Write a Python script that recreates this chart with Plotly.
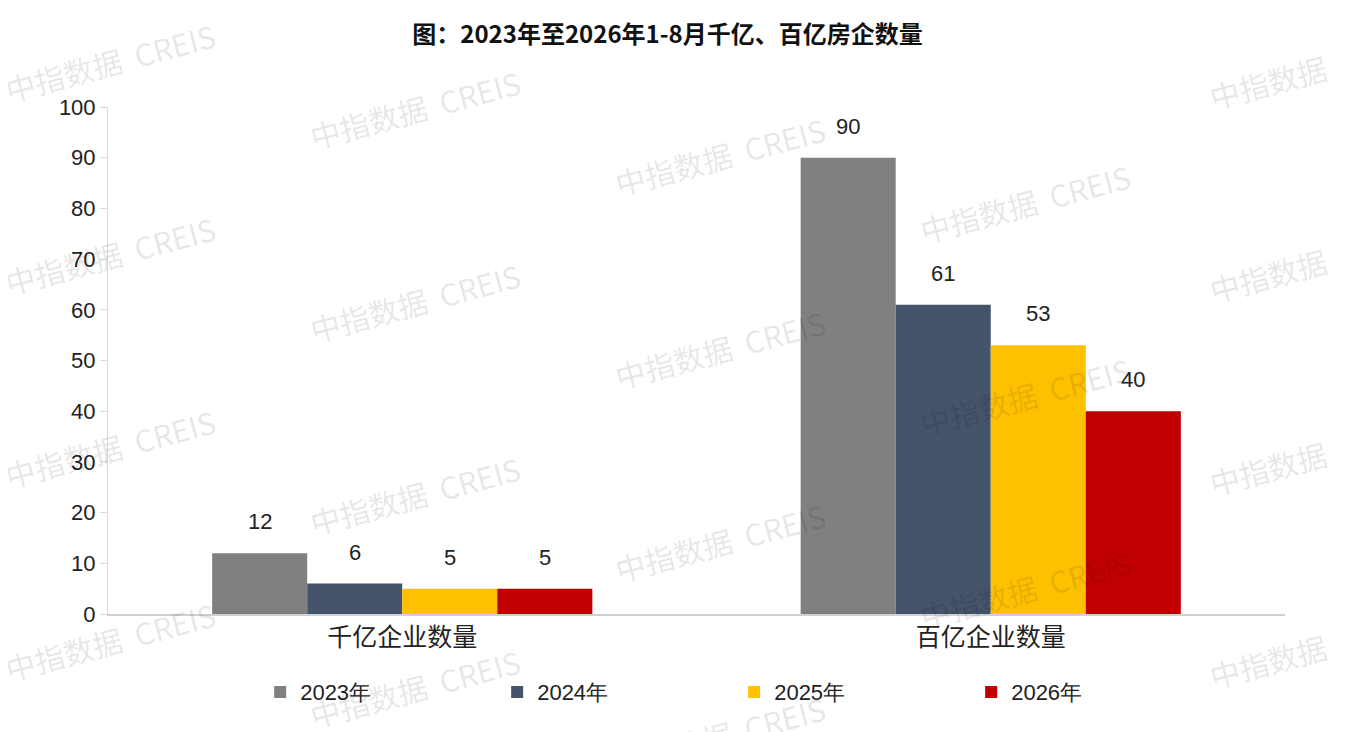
import plotly.graph_objects as go

categories = ["千亿企业数量", "百亿企业数量"]
years = ["2023年", "2024年", "2025年", "2026年"]
values = {
    "2023年": [12, 90],
    "2024年": [6, 61],
    "2025年": [5, 53],
    "2026年": [5, 40],
}
colors = ["#808080", "#44546A", "#FFC000", "#C00000"]

W, H = 1346, 732
# page has an 8px body margin, so the plot is shifted by that
margin = dict(l=100, r=69, t=99, b=126)
plot_w = W - margin["l"] - margin["r"]
plot_h = H - margin["t"] - margin["b"]

fig = go.Figure()
for yr, c in zip(years, colors):
    fig.add_trace(go.Bar(x=categories, y=values[yr], name=yr, marker_color=c,
                         marker_line_width=0))

# value labels a bit above each bar
bar_px = plot_w / len(categories) * (1 - 0.354) / len(years)
for i, yr in enumerate(years):
    for cat, v in zip(categories, values[yr]):
        fig.add_annotation(x=cat, y=v, text=str(v), showarrow=False,
                           xshift=(i - 1.5) * bar_px, yshift=17, yanchor="bottom",
                           font=dict(family="Liberation Sans", size=22, color="#222"))

# watermark grid (page pixel positions of centres)
wm_font = dict(family="Noto Sans CJK SC", size=30, color="rgba(0,0,0,0.11)")
for col in range(5):
    for row in range(-1, 5):
        if col < 4:
            x = 110 + col * 305
            y = 62 + row * 193 + col * 47
            txt = "中指数据  CREIS"
        else:
            x = 1268
            y = 82 + row * 193
            txt = "中指数据"
        if 50 < y < H + 20:
            fig.add_annotation(xref="paper", yref="paper",
                               x=(x - 8 - margin["l"]) / plot_w,
                               y=1 - (y - 8 - margin["t"]) / plot_h,
                               xanchor="center", yanchor="middle",
                               text=txt, showarrow=False, textangle=-15,
                               font=wm_font)

fig.update_layout(
    width=W, height=H, margin=margin,
    plot_bgcolor="white", paper_bgcolor="white",
    barmode="group", bargap=0.354, bargroupgap=0,
    title=dict(text="<b>图：2023年至2026年1-8月千亿、百亿房企数量</b>", x=0.49, xanchor="center",
               y=1 - 27 / H, yanchor="middle",
               font=dict(family="Noto Sans CJK SC", size=24, color="#111")),
    legend=dict(orientation="h", x=0.532, xanchor="center", y=-0.154, yanchor="middle",
                entrywidth=192, font=dict(family="Liberation Sans", size=22, color="#222"),
                itemwidth=30),
    showlegend=True,
)
fig.update_xaxes(showline=True, linecolor="#d0d0d0", linewidth=2, ticks="",
                 tickfont=dict(family="Noto Sans CJK SC", size=25, color="#222"))
fig.update_yaxes(range=[0, 100], dtick=10, showgrid=False, showline=True,
                 linecolor="#d9d9d9", linewidth=1, ticks="outside", ticklen=7,
                 tickcolor="#d9d9d9", zeroline=False,
                 tickfont=dict(family="Liberation Sans", size=22, color="#222"))

fig.write_html("out.html")
